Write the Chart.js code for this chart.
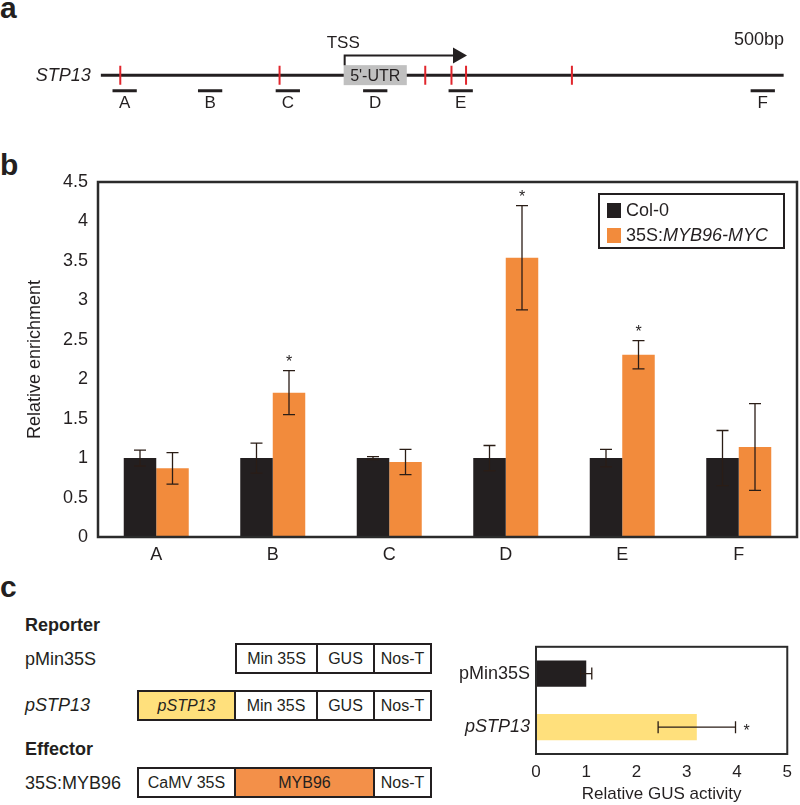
<!DOCTYPE html>
<html>
<head>
<meta charset="utf-8">
<script src="https://cdn.jsdelivr.net/npm/chart.js@4.4.0/dist/chart.umd.min.js"></script>
<style>
  body { margin: 0; background: #fff; font-family: "Liberation Sans", Arial, sans-serif; color: #231f20; }
  #page { position: relative; width: 800px; height: 805px; overflow: hidden; }
  canvas { position: absolute; }
  .t { position: absolute; white-space: nowrap; line-height: 1; }
  .panel { font-weight: bold; font-size: 30px; }
  .lbl { font-size: 18px; line-height: 18px; }
  .construct { position: absolute; display: flex; height: 31px; border: 2px solid #231f20; box-sizing: border-box; }
  .construct div { display: flex; align-items: center; justify-content: center; font-size: 16px;
                   border-left: 2px solid #231f20; box-sizing: border-box; height: 100%; }
  .construct div:first-child { border-left: none; }
  #legend { position: absolute; left: 598px; top: 193px; width: 187px; height: 56px; border: 2px solid #231f20;
            box-sizing: border-box; font-size: 18px; }
  #legend .row { position: absolute; left: 7px; display: flex; align-items: center; height: 18px; }
  #legend .sw { width: 14px; height: 15px; margin-right: 5px; }
</style>
</head>
<body>
<div id="page">
  <div class="t panel" style="left:0;top:-7px">a</div>
  <div class="t panel" style="left:0;top:150px">b</div>
  <div class="t panel" style="left:0;top:572px">c</div>

  <canvas id="mapChart" width="800" height="125" style="left:0;top:0"></canvas>
  <canvas id="chipChart" width="800" height="440" style="left:0;top:130px"></canvas>
  <div id="legend"></div>

  <div class="t lbl" style="left:25px;top:616px;font-weight:bold">Reporter</div>
  <div class="t lbl" style="left:25px;top:650px">pMin35S</div>
  <div class="t lbl" style="left:25px;top:696px;font-style:italic">pSTP13</div>
  <div class="t lbl" style="left:25px;top:740px;font-weight:bold">Effector</div>
  <div class="t lbl" style="left:25px;top:774px">35S:MYB96</div>
  <div id="constructs"></div>

  <canvas id="gusChart" width="360" height="175" style="left:440px;top:630px"></canvas>
</div>

<script>
// ---- panel a: STP13 locus, positions in bp relative to the TSS
const geneStartBp = -1250, geneEndBp = 2265;
const utrEndBp = 325;
const arrowEndBp = 635;
const siteBp = [-1150, -330, 420, 555, 630, 1175];
const primerNames = ['A', 'B', 'C', 'D', 'E', 'F'];
const primerStart = [-1190, -750, -350, 100, 540, 2095];
const primerEnd = [-1065, -625, -225, 225, 665, 2220];

// ---- panel b: ChIP enrichment
const regions = ['A', 'B', 'C', 'D', 'E', 'F'];
const col0 = [1, 1, 1, 1, 1, 1];
const col0Err = [0.10, 0.19, 0.02, 0.16, 0.11, 0.35];
const myb96 = [0.87, 1.83, 0.95, 3.54, 2.31, 1.14];
const myb96Err = [0.20, 0.28, 0.16, 0.66, 0.18, 0.55];
const myb96Sig = [false, true, false, true, true, false];

// ---- panel c: transient GUS assay
const reporters = ['pMin35S', 'pSTP13'];
const gusActivity = [1.0, 3.2];
const gusErr = [0.11, 0.77];
const gusSig = [false, true];

const INK = '#231f20';
const ORANGE = '#f28b3c';
const YELLOW = '#ffe07c';
const FONT = '"Liberation Sans", Arial, sans-serif';

// rows in the map canvas
const GENE_ROW = 78, PRIMER_ROW = 97, LABEL_ROW = 112, ARROW_ROW = 54;

Chart.defaults.font.family = FONT;
Chart.defaults.color = INK;

const frame = {
  id: 'frame',
  afterDraw(chart, args, opts) {
    const a = chart.chartArea, ctx = chart.ctx;
    ctx.save();
    ctx.strokeStyle = '#2b2b2b';
    ctx.lineWidth = opts.width || 2.5;
    ctx.strokeRect(a.left, a.top, a.right - a.left, a.bottom - a.top);
    ctx.restore();
  }
};

const errorBars = {
  id: 'errorBars',
  afterDatasetsDraw(chart) {
    const ctx = chart.ctx;
    const horiz = chart.options.indexAxis === 'y';
    const vs = horiz ? chart.scales.x : chart.scales.y;
    ctx.save();
    ctx.strokeStyle = '#2a1d16';
    ctx.fillStyle = INK;
    ctx.lineWidth = 1.3;
    chart.data.datasets.forEach((ds, i) => {
      chart.getDatasetMeta(i).data.forEach((bar, j) => {
        const v = ds.data[j], e = ds.errors[j];
        const lo = vs.getPixelForValue(v - e), hi = vs.getPixelForValue(v + e);
        const c = horiz ? bar.y : bar.x, cap = 6;
        ctx.beginPath();
        if (horiz) {
          ctx.moveTo(lo, c); ctx.lineTo(hi, c);
          ctx.moveTo(lo, c - cap); ctx.lineTo(lo, c + cap);
          ctx.moveTo(hi, c - cap); ctx.lineTo(hi, c + cap);
        } else {
          ctx.moveTo(c, lo); ctx.lineTo(c, hi);
          ctx.moveTo(c - cap, lo); ctx.lineTo(c + cap, lo);
          ctx.moveTo(c - cap, hi); ctx.lineTo(c + cap, hi);
        }
        ctx.stroke();
        if (ds.sig && ds.sig[j]) {
          ctx.font = '16px ' + FONT;
          ctx.textAlign = 'center';
          ctx.textBaseline = 'alphabetic';
          if (horiz) ctx.fillText('*', hi + 11, c + 9);
          else ctx.fillText('*', c, hi - 4);
        }
      });
    });
    ctx.restore();
  }
};

// ---- panel a
const mapDecor = {
  id: 'mapDecor',
  afterDatasetsDraw(chart) {
    const ctx = chart.ctx, x = chart.scales.x, y = chart.scales.y;
    const gy = y.getPixelForValue(GENE_ROW);
    const u0 = x.getPixelForValue(0), u1 = x.getPixelForValue(utrEndBp);
    ctx.save();
    ctx.fillStyle = '#c0c0c0';
    ctx.fillRect(u0, gy - 10, u1 - u0, 20);
    ctx.fillStyle = INK;
    ctx.textBaseline = 'middle';
    ctx.font = '16px ' + FONT;
    ctx.textAlign = 'center';
    ctx.fillText("5'-UTR", (u0 + u1) / 2, gy + 1);

    // TSS arrow
    const ay = y.getPixelForValue(ARROW_ROW);
    const tip = x.getPixelForValue(arrowEndBp);
    ctx.strokeStyle = INK;
    ctx.lineWidth = 2;
    ctx.beginPath();
    ctx.moveTo(u0 + 1, gy - 10);
    ctx.lineTo(u0 + 1, ay);
    ctx.lineTo(tip - 14, ay);
    ctx.stroke();
    ctx.beginPath();
    ctx.moveTo(tip - 14, ay - 8);
    ctx.lineTo(tip, ay);
    ctx.lineTo(tip - 14, ay + 8);
    ctx.closePath();
    ctx.fill();

    ctx.font = '17px ' + FONT;
    ctx.textAlign = 'left';
    ctx.fillText('TSS', u0 - 17, 43);
    ctx.font = '18px ' + FONT;
    ctx.textAlign = 'right';
    ctx.fillText('500bp', 784, 40);
    ctx.font = 'italic 18px ' + FONT;
    ctx.fillText('STP13', x.getPixelForValue(geneStartBp) - 10, gy + 1);

    ctx.font = '17px ' + FONT;
    ctx.textAlign = 'center';
    primerNames.forEach((n, i) => {
      ctx.fillText(n, x.getPixelForValue((primerStart[i] + primerEnd[i]) / 2), y.getPixelForValue(LABEL_ROW));
    });
    ctx.restore();
  }
};

new Chart(document.getElementById('mapChart'), {
  type: 'scatter',
  data: {
    datasets: [
      {
        type: 'line', order: 3,
        data: [{x: geneStartBp, y: GENE_ROW}, {x: geneEndBp, y: GENE_ROW}],
        borderColor: INK, borderWidth: 3, pointRadius: 0
      },
      ...primerNames.map((n, i) => ({
        type: 'line', order: 2, label: n,
        data: [{x: primerStart[i], y: PRIMER_ROW}, {x: primerEnd[i], y: PRIMER_ROW}],
        borderColor: INK, borderWidth: 3, pointRadius: 0
      })),
      {
        order: 1,
        data: siteBp.map(b => ({x: b, y: GENE_ROW})),
        pointStyle: 'line', rotation: 90, pointRadius: 9.5,
        borderColor: '#e1262d', borderWidth: 2
      }
    ]
  },
  options: {
    responsive: false, animation: false,
    layout: {padding: 0},
    scales: {
      x: {type: 'linear', display: false, min: -1710, max: 2290},
      y: {type: 'linear', display: false, min: 0, max: 125, reverse: true}
    },
    plugins: {legend: {display: false}, tooltip: {enabled: false}}
  },
  plugins: [mapDecor]
});

// ---- panel b
new Chart(document.getElementById('chipChart'), {
  type: 'bar',
  data: {
    labels: regions,
    datasets: [
      {label: 'Col-0', data: col0, errors: col0Err, backgroundColor: INK,
       barPercentage: 1, categoryPercentage: 0.558},
      {label: '35S:MYB96-MYC', data: myb96, errors: myb96Err, sig: myb96Sig, backgroundColor: ORANGE,
       barPercentage: 1, categoryPercentage: 0.558}
    ]
  },
  options: {
    responsive: false, animation: false,
    layout: {padding: {top: 52, right: 3, left: 0, bottom: 0}},
    scales: {
      x: {
        grid: {display: false, drawTicks: false}, border: {display: false},
        ticks: {font: {size: 18}, padding: 7, color: INK},
        afterFit: s => { s.height = 33; }
      },
      y: {
        min: 0, max: 4.5,
        grid: {display: false, drawTicks: false}, border: {display: false},
        ticks: {stepSize: 0.5, font: {size: 18}, padding: 10, color: INK, callback: v => String(v)},
        title: {display: true, text: 'Relative enrichment', font: {size: 18}, padding: {top: 24, bottom: 0}, color: INK},
        afterFit: s => { s.width = 98; }
      }
    },
    plugins: {legend: {display: false}, tooltip: {enabled: false}, frame: {width: 2.5}}
  },
  plugins: [errorBars, frame]
});

// legend for panel b
const legendItems = [
  {color: INK, html: 'Col-0', top: 6},
  {color: ORANGE, html: '35S:<i>MYB96-MYC</i>', top: 31}
];
document.getElementById('legend').innerHTML = legendItems.map(it =>
  `<div class="row" style="top:${it.top}px"><div class="sw" style="background:${it.color}"></div><span>${it.html}</span></div>`
).join('');

// ---- panel c constructs
const constructs = [
  {left: 235, top: 643, parts: [['Min 35S', 79, '#fff'], ['GUS', 57, '#fff'], ['Nos-T', 57, '#fff']]},
  {left: 137, top: 690, parts: [['<i>pSTP13</i>', 95, YELLOW], ['Min 35S', 82, '#fff'], ['GUS', 57, '#fff'], ['Nos-T', 57, '#fff']]},
  {left: 137, top: 767, parts: [['CaMV 35S', 95, '#fff'], ['MYB96', 139, '#f39049'], ['Nos-T', 57, '#fff']]}
];
document.getElementById('constructs').innerHTML = constructs.map(c =>
  `<div class="construct" style="left:${c.left}px;top:${c.top}px">` +
  c.parts.map(p => `<div style="width:${p[1]}px;background:${p[2]}">${p[0]}</div>`).join('') +
  `</div>`
).join('');

// ---- panel c chart
new Chart(document.getElementById('gusChart'), {
  type: 'bar',
  data: {
    labels: reporters,
    datasets: [{
      data: gusActivity, errors: gusErr, sig: gusSig,
      backgroundColor: [INK, YELLOW],
      barPercentage: 1, categoryPercentage: 0.49
    }]
  },
  options: {
    indexAxis: 'y',
    responsive: false, animation: false,
    layout: {padding: {top: 13, right: 4, left: 0, bottom: 0}},
    scales: {
      x: {
        min: 0, max: 5,
        grid: {display: false, drawTicks: false}, border: {display: false},
        ticks: {stepSize: 1, font: {size: 17}, padding: 8, color: INK},
        title: {display: true, text: 'Relative GUS activity', font: {size: 17}, padding: 0, color: INK},
        afterFit: s => { s.height = 51; }
      },
      y: {
        grid: {display: false, drawTicks: false}, border: {display: false},
        ticks: {
          font: ctx => ({size: 18, style: ctx.index === 1 ? 'italic' : 'normal'}),
          padding: 6, color: INK
        },
        afterFit: s => { s.width = 96; }
      }
    },
    plugins: {legend: {display: false}, tooltip: {enabled: false}, frame: {width: 2}}
  },
  plugins: [errorBars, frame]
});
</script>
</body>
</html>
